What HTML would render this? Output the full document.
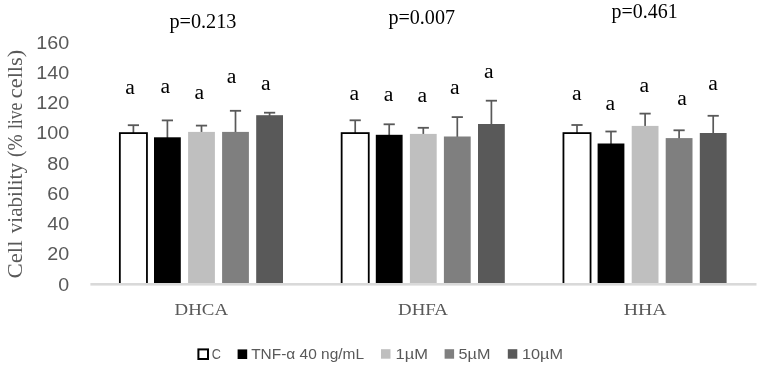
<!DOCTYPE html>
<html><head><meta charset="utf-8"><title>chart</title>
<style>
html,body{margin:0;padding:0;background:#fff;}
body{width:761px;height:366px;overflow:hidden;}
svg{display:block;will-change:transform;}
text{font-family:"Liberation Sans",sans-serif;}
.s{font-family:"Liberation Serif",serif;}
</style></head><body>
<svg width="761" height="366" viewBox="0 0 761 366">
<rect x="0" y="0" width="761" height="366" fill="#ffffff"/>
<text x="58.3" y="290.60" font-size="18.8" fill="#595959" textLength="10.9" lengthAdjust="spacingAndGlyphs">0</text>
<text x="47.3" y="260.35" font-size="18.8" fill="#595959" textLength="21.9" lengthAdjust="spacingAndGlyphs">20</text>
<text x="47.3" y="230.10" font-size="18.8" fill="#595959" textLength="21.9" lengthAdjust="spacingAndGlyphs">40</text>
<text x="47.3" y="199.85" font-size="18.8" fill="#595959" textLength="21.9" lengthAdjust="spacingAndGlyphs">60</text>
<text x="47.3" y="169.60" font-size="18.8" fill="#595959" textLength="21.9" lengthAdjust="spacingAndGlyphs">80</text>
<text x="36.3" y="139.35" font-size="18.8" fill="#595959" textLength="32.9" lengthAdjust="spacingAndGlyphs">100</text>
<text x="36.3" y="109.10" font-size="18.8" fill="#595959" textLength="32.9" lengthAdjust="spacingAndGlyphs">120</text>
<text x="36.3" y="78.85" font-size="18.8" fill="#595959" textLength="32.9" lengthAdjust="spacingAndGlyphs">140</text>
<text x="36.3" y="48.60" font-size="18.8" fill="#595959" textLength="32.9" lengthAdjust="spacingAndGlyphs">160</text>
<rect x="132.55" y="125.20" width="1.7" height="8.55" fill="#595959"/><rect x="127.80" y="124.30" width="11.2" height="1.8" fill="#595959"/>
<rect x="119.85" y="133.10" width="27.1" height="154.25" fill="#ffffff" stroke="#000000" stroke-width="1.8"/>
<rect x="166.55" y="120.40" width="1.7" height="17.90" fill="#595959"/><rect x="161.80" y="119.50" width="11.2" height="1.8" fill="#595959"/>
<rect x="154.00" y="137.30" width="26.80" height="146.70" fill="#000000"/>
<rect x="200.65" y="125.60" width="1.7" height="7.30" fill="#595959"/><rect x="195.90" y="124.70" width="11.2" height="1.8" fill="#595959"/>
<rect x="188.10" y="131.90" width="26.80" height="152.10" fill="#bfbfbf"/>
<rect x="234.65" y="110.80" width="1.7" height="22.10" fill="#595959"/><rect x="229.90" y="109.90" width="11.2" height="1.8" fill="#595959"/>
<rect x="222.10" y="131.90" width="26.80" height="152.10" fill="#7f7f7f"/>
<rect x="268.75" y="112.70" width="1.7" height="3.50" fill="#595959"/><rect x="264.00" y="111.80" width="11.2" height="1.8" fill="#595959"/>
<rect x="256.20" y="115.20" width="26.80" height="168.80" fill="#595959"/>
<rect x="354.35" y="120.30" width="1.7" height="13.45" fill="#595959"/><rect x="349.60" y="119.40" width="11.2" height="1.8" fill="#595959"/>
<rect x="341.65" y="133.10" width="27.1" height="154.25" fill="#ffffff" stroke="#000000" stroke-width="1.8"/>
<rect x="388.35" y="124.30" width="1.7" height="11.50" fill="#595959"/><rect x="383.60" y="123.40" width="11.2" height="1.8" fill="#595959"/>
<rect x="375.80" y="134.80" width="26.80" height="149.20" fill="#000000"/>
<rect x="422.45" y="127.80" width="1.7" height="7.10" fill="#595959"/><rect x="417.70" y="126.90" width="11.2" height="1.8" fill="#595959"/>
<rect x="409.90" y="133.90" width="26.80" height="150.10" fill="#bfbfbf"/>
<rect x="456.45" y="117.10" width="1.7" height="20.40" fill="#595959"/><rect x="451.70" y="116.20" width="11.2" height="1.8" fill="#595959"/>
<rect x="443.90" y="136.50" width="26.80" height="147.50" fill="#7f7f7f"/>
<rect x="490.55" y="100.70" width="1.7" height="24.30" fill="#595959"/><rect x="485.80" y="99.80" width="11.2" height="1.8" fill="#595959"/>
<rect x="478.00" y="124.00" width="26.80" height="160.00" fill="#595959"/>
<rect x="576.15" y="125.00" width="1.7" height="8.75" fill="#595959"/><rect x="571.40" y="124.10" width="11.2" height="1.8" fill="#595959"/>
<rect x="563.45" y="133.10" width="27.1" height="154.25" fill="#ffffff" stroke="#000000" stroke-width="1.8"/>
<rect x="610.15" y="131.50" width="1.7" height="13.00" fill="#595959"/><rect x="605.40" y="130.60" width="11.2" height="1.8" fill="#595959"/>
<rect x="597.60" y="143.50" width="26.80" height="140.50" fill="#000000"/>
<rect x="644.25" y="113.60" width="1.7" height="13.30" fill="#595959"/><rect x="639.50" y="112.70" width="11.2" height="1.8" fill="#595959"/>
<rect x="631.70" y="125.90" width="26.80" height="158.10" fill="#bfbfbf"/>
<rect x="678.25" y="130.30" width="1.7" height="8.80" fill="#595959"/><rect x="673.50" y="129.40" width="11.2" height="1.8" fill="#595959"/>
<rect x="665.70" y="138.10" width="26.80" height="145.90" fill="#7f7f7f"/>
<rect x="712.35" y="115.80" width="1.7" height="18.20" fill="#595959"/><rect x="707.60" y="114.90" width="11.2" height="1.8" fill="#595959"/>
<rect x="699.80" y="133.00" width="26.80" height="151.00" fill="#595959"/>
<rect x="90" y="283.0" width="671" height="10" fill="#ffffff"/>
<rect x="90.4" y="283.0" width="666.1" height="2.6" fill="#d9d9d9"/>
<text class="s" x="130.1" y="93.8" font-size="20" text-anchor="middle" textLength="9.6" lengthAdjust="spacingAndGlyphs" fill="#000">a</text>
<text class="s" x="165.2" y="92.6" font-size="20" text-anchor="middle" textLength="9.6" lengthAdjust="spacingAndGlyphs" fill="#000">a</text>
<text class="s" x="199.2" y="99.0" font-size="20" text-anchor="middle" textLength="9.6" lengthAdjust="spacingAndGlyphs" fill="#000">a</text>
<text class="s" x="231.5" y="83.2" font-size="20" text-anchor="middle" textLength="9.6" lengthAdjust="spacingAndGlyphs" fill="#000">a</text>
<text class="s" x="265.8" y="89.6" font-size="20" text-anchor="middle" textLength="9.6" lengthAdjust="spacingAndGlyphs" fill="#000">a</text>
<text class="s" x="354.2" y="99.9" font-size="20" text-anchor="middle" textLength="9.6" lengthAdjust="spacingAndGlyphs" fill="#000">a</text>
<text class="s" x="388.5" y="101.1" font-size="20" text-anchor="middle" textLength="9.6" lengthAdjust="spacingAndGlyphs" fill="#000">a</text>
<text class="s" x="422.3" y="101.8" font-size="20" text-anchor="middle" textLength="9.6" lengthAdjust="spacingAndGlyphs" fill="#000">a</text>
<text class="s" x="454.7" y="94.3" font-size="20" text-anchor="middle" textLength="9.6" lengthAdjust="spacingAndGlyphs" fill="#000">a</text>
<text class="s" x="488.8" y="77.5" font-size="20" text-anchor="middle" textLength="9.6" lengthAdjust="spacingAndGlyphs" fill="#000">a</text>
<text class="s" x="576.8" y="99.8" font-size="20" text-anchor="middle" textLength="9.6" lengthAdjust="spacingAndGlyphs" fill="#000">a</text>
<text class="s" x="610.2" y="110.2" font-size="20" text-anchor="middle" textLength="9.6" lengthAdjust="spacingAndGlyphs" fill="#000">a</text>
<text class="s" x="644.2" y="91.5" font-size="20" text-anchor="middle" textLength="9.6" lengthAdjust="spacingAndGlyphs" fill="#000">a</text>
<text class="s" x="682.1" y="104.7" font-size="20" text-anchor="middle" textLength="9.6" lengthAdjust="spacingAndGlyphs" fill="#000">a</text>
<text class="s" x="713.1" y="89.6" font-size="20" text-anchor="middle" textLength="9.6" lengthAdjust="spacingAndGlyphs" fill="#000">a</text>
<text class="s" x="169.4" y="27.6" font-size="20" fill="#000" textLength="67.1" lengthAdjust="spacingAndGlyphs">p=0.213</text>
<text class="s" x="388.4" y="24.0" font-size="20" fill="#000" textLength="66.6" lengthAdjust="spacingAndGlyphs">p=0.007</text>
<text class="s" x="611.6" y="18.0" font-size="20" fill="#000" textLength="66.0" lengthAdjust="spacingAndGlyphs">p=0.461</text>
<text class="s" x="174.6" y="315" font-size="17.2" fill="#595959" textLength="53.5" lengthAdjust="spacingAndGlyphs">DHCA</text>
<text class="s" x="398" y="315" font-size="17.2" fill="#595959" textLength="50" lengthAdjust="spacingAndGlyphs">DHFA</text>
<text class="s" x="623.8" y="315" font-size="17.2" fill="#595959" textLength="42.8" lengthAdjust="spacingAndGlyphs">HHA</text>
<text class="s" transform="translate(21.8,278.6) rotate(-90)" x="0" y="0" font-size="20.8" fill="#595959" textLength="38.1" lengthAdjust="spacingAndGlyphs">Cell</text>
<text class="s" transform="translate(21.8,278.6) rotate(-90)" x="45.4" y="0" font-size="20.8" fill="#595959" textLength="70.2" lengthAdjust="spacingAndGlyphs">viability</text>
<text class="s" transform="translate(21.8,278.6) rotate(-90)" x="121.7" y="0" font-size="20.8" fill="#595959" textLength="22.6" lengthAdjust="spacingAndGlyphs">(%</text>
<text class="s" transform="translate(21.8,278.6) rotate(-90)" x="149.5" y="0" font-size="20.8" fill="#595959" textLength="26.4" lengthAdjust="spacingAndGlyphs">live</text>
<text class="s" transform="translate(21.8,278.6) rotate(-90)" x="180.4" y="0" font-size="20.8" fill="#595959" textLength="48.4" lengthAdjust="spacingAndGlyphs">cells)</text>
<rect x="198.4" y="349.4" width="9.6" height="9.6" fill="#fff" stroke="#000" stroke-width="2"/>
<rect x="237.6" y="349.4" width="9.6" height="9.6" fill="#000"/>
<rect x="381.0" y="349.2" width="9.5" height="9.5" fill="#bfbfbf"/>
<rect x="444.6" y="349.2" width="9.5" height="9.5" fill="#7f7f7f"/>
<rect x="507.8" y="349.2" width="9.5" height="9.5" fill="#595959"/>
<text x="211.8" y="358.7" font-size="14" fill="#595959" textLength="9.2" lengthAdjust="spacingAndGlyphs">C</text>
<text x="251.2" y="358.7" font-size="14" fill="#595959" textLength="112.8" lengthAdjust="spacingAndGlyphs">TNF-α 40 ng/mL</text>
<text x="395.6" y="358.7" font-size="14" fill="#595959" textLength="32.4" lengthAdjust="spacingAndGlyphs">1µM</text>
<text x="458.6" y="358.7" font-size="14" fill="#595959" textLength="31.8" lengthAdjust="spacingAndGlyphs">5µM</text>
<text x="522.0" y="358.7" font-size="14" fill="#595959" textLength="41.0" lengthAdjust="spacingAndGlyphs">10µM</text>
</svg>
</body></html>
